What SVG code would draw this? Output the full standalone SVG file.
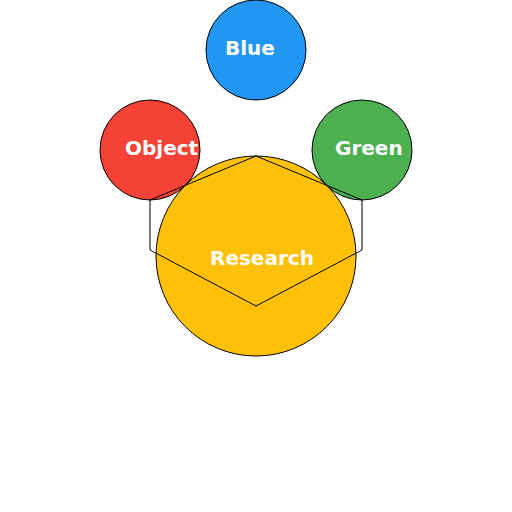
<svg xmlns="http://www.w3.org/2000/svg" width="512" height="512" viewBox="0 0 512 512">
<style>
.n{stroke:#000;stroke-width:1}
.t{font-family:"DejaVu Sans",sans-serif;font-weight:bold;font-size:20px;fill:#fff}
.c{fill:none;stroke:#000;stroke-width:1}
</style>
<rect width="512" height="512" fill="#fff"/>
<g id="blue"><circle class="n" cx="256" cy="50" r="50" fill="#2196F3"/></g>
<g id="object"><circle class="n" cx="150" cy="150" r="50" fill="#F44336"/></g>
<g id="green"><circle class="n" cx="362" cy="150" r="50" fill="#4CAF50"/></g>
<g id="research"><circle class="n" cx="256" cy="256" r="100" fill="#FFC107"/></g>
<g id="connectors"><polygon class="c" points="256,156 362,200 362,250 256,306 150,250 150,200"/></g>
<g id="labels">
<text class="t" x="225" y="55">Blue</text>
<text class="t" x="125" y="155">Object</text>
<text class="t" x="335" y="155">Green</text>
<text class="t" x="210" y="265">Research</text>
</g>
</svg>
